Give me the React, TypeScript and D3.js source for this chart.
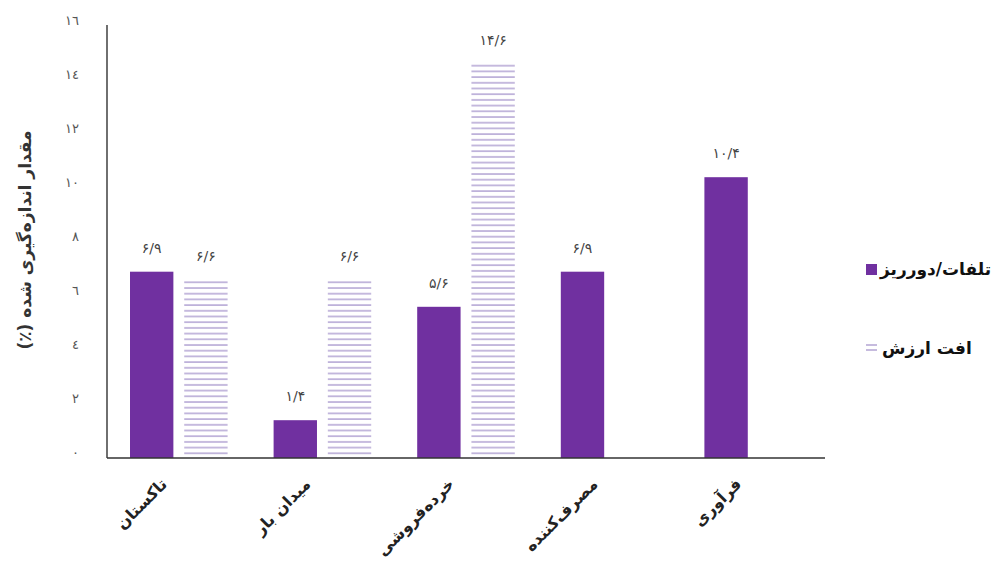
import React from "react";
import * as d3 from "d3";

const categories = ["تاکستان", "میدان بار", "خرده‌فروشی", "مصرف‌کننده", "فرآوری"];
const lossValues: (number | null)[] = [6.9, 1.4, 5.6, 6.9, 10.4];
const devalueValues: (number | null)[] = [6.6, 6.6, 14.6, null, null];
const lossLabels = ["۶/۹", "۱/۴", "۵/۶", "۶/۹", "۱۰/۴"];
const devalueLabels = ["۶/۶", "۶/۶", "۱۴/۶", "", ""];
const yTicks = [0, 2, 4, 6, 8, 10, 12, 14, 16];
const yTickLabels = ["٠", "٢", "٤", "٦", "٨", "١٠", "١٢", "١٤", "١٦"];
const seriesNames = ["تلفات/دورریز", "افت ارزش"];
const yTitle = "مقدار اندازه‌گیری شده (٪)";

const W = 1008;
const H = 573;
const left = 107;
const right = 825;
const bottom = 458;
const top = 26;
const PURPLE = "#7030A0";
const HATCH = "#a796cc";
const FONT = "'DejaVu Sans', sans-serif";

export default function App() {
  const x0 = d3.scaleBand<string>().domain(categories).range([left, right]).paddingInner(0).paddingOuter(0);
  const x1 = d3.scaleBand<string>().domain(["loss", "dev"]).range([23, x0.bandwidth() - 23]).paddingInner(0.2).paddingOuter(0);
  const y = d3.scaleLinear().domain([0, 16]).range([bottom, top]);

  return (
    <svg width={W} height={H} style={{ position: "absolute", left: 0, top: 0, background: "#fff" }} fontFamily={FONT}>
      <defs>
        <pattern id="hatch" patternUnits="userSpaceOnUse" width="8" height="5.7" y={2}>
          <line x1="0" x2="8" y1="1" y2="1" stroke={HATCH} strokeWidth="1.3" />
        </pattern>
      </defs>
      <rect width={W} height={H} fill="#fff" />
      {yTicks.map((t, i) => (
        <text key={t} x={79} y={y(t) - 5} textAnchor="end" dominantBaseline="middle" fontSize={13} fill="#555">
          {yTickLabels[i]}
        </text>
      ))}
      <text transform={`translate(26,${(top + bottom) / 2 - 2}) rotate(-90)`} direction="rtl" textAnchor="middle" dominantBaseline="middle" fontSize={17} fontWeight="bold" fill="#333">
        {yTitle}
      </text>
      {categories.map((c, i) => {
        const gx = x0(c)!;
        const lv = lossValues[i];
        const dv = devalueValues[i];
        return (
          <g key={c}>
            {lv != null && (
              <>
                <rect x={gx + x1("loss")!} y={y(lv)} width={x1.bandwidth()} height={y(0) - y(lv)} fill={PURPLE} />
                <text x={gx + x1("loss")! + x1.bandwidth() / 2} y={y(lv) - 23} textAnchor="middle" dominantBaseline="middle" fontSize={14} fill="#444">
                  {lossLabels[i]}
                </text>
              </>
            )}
            {dv != null && (
              <>
                <rect x={gx + x1("dev")!} y={y(dv)} width={x1.bandwidth()} height={y(0) - y(dv)} fill="url(#hatch)" />
                <text x={gx + x1("dev")! + x1.bandwidth() / 2} y={y(dv) - 23} textAnchor="middle" dominantBaseline="middle" fontSize={14} fill="#444">
                  {devalueLabels[i]}
                </text>
              </>
            )}
            <text transform={`translate(${gx + x0.bandwidth() / 2 - 14},${bottom + 24}) rotate(-45)`} textAnchor="end" dominantBaseline="middle" fontSize={16} fontWeight="bold" fill="#222">
              {c}
            </text>
          </g>
        );
      })}
      <line x1={left} x2={left} y1={top - 1} y2={bottom} stroke="#222" strokeWidth={1.3} />
      <line x1={left} x2={right} y1={bottom} y2={bottom} stroke="#333" strokeWidth={1.3} />
      <rect x={866} y={264} width={11} height={11} fill={PURPLE} />
      <text x={880} y={270} dominantBaseline="middle" fontSize={17} fontWeight="bold" fill="#111">
        {seriesNames[0]}
      </text>
      <line x1={866} x2={877} y1={345} y2={345} stroke={HATCH} strokeWidth={1.3} />
      <line x1={866} x2={877} y1={350} y2={350} stroke={HATCH} strokeWidth={1.3} />
      <text x={882} y={349} dominantBaseline="middle" fontSize={17} fontWeight="bold" fill="#111">
        {seriesNames[1]}
      </text>
    </svg>
  );
}
